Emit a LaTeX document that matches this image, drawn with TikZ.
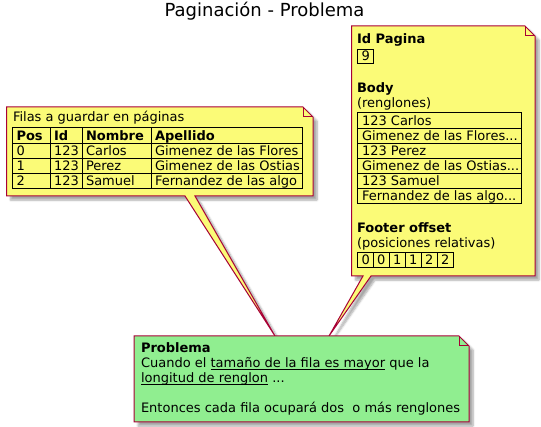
\documentclass[tikz,border=0pt]{standalone}
\usepackage{fontspec}
\setmainfont{DejaVu Sans}
\usetikzlibrary{shadows.blur}
\definecolor{noteyellow}{HTML}{FBFB77}
\definecolor{notegreen}{HTML}{90EE90}
\definecolor{noteborder}{HTML}{A80036}
\newcommand\myul[1]{\setbox0=\hbox{#1}\rlap{\rule[-2.5pt]{\wd0}{1pt}}\box0\relax}
\tikzset{
  notebox/.style={draw=noteborder, line width=1pt, line join=miter,
    blur shadow={shadow xshift=4pt, shadow yshift=-4pt, shadow opacity=35, shadow blur steps=6, shadow blur radius=2pt}},
  foldline/.style={draw=noteborder, line width=1pt},
  txt/.style={anchor=base west, inner sep=0pt, outer sep=0pt, font=\fontsize{13}{15}\selectfont},
  btxt/.style={txt, font=\fontsize{13}{15}\selectfont\bfseries},
  grid/.style={draw=black, line width=1pt},
  titletxt/.style={anchor=base, inner sep=0pt, font=\fontsize{18}{21}\selectfont}
}
\begin{document}
\begin{tikzpicture}[x=1pt, y=-1pt]
\useasboundingbox (0,0) rectangle (541,427);
% title
\node[titletxt] (title) at (264.5,17) {Paginación - Problema};

% tips of the wedges on the green note
\coordinate (tipL) at (275,336);
\coordinate (tipR) at (329,336);

% left note with wedge
\path[notebox, fill=noteyellow] (6.5,107) -- (303,107) -- (313,117) -- (313,196) -- (195,196) -- (tipL) -- (185,196) -- (6.5,196) -- cycle;
\draw[foldline] (303,107) -- (303,117) -- (313,117);

% right note with wedge
\path[notebox, fill=noteyellow] (351.5,26) -- (525,26) -- (535,36) -- (535,276) -- (371,276) -- (tipR) -- (363,276) -- (351.5,276) -- cycle;
\draw[foldline] (525,26) -- (525,36) -- (535,36);

% green note
\path[notebox, fill=notegreen] (134,336) -- (459,336) -- (469,346) -- (469,422) -- (134,422) -- cycle;
\draw[foldline] (459,336) -- (459,346) -- (469,346);

% ---- left note content
\node[txt] (filas) at (13,122) {Filas a guardar en páginas};
\draw[grid] (12.5,128) rectangle (302,189);
\foreach \yy in {144,159,174} \draw[grid] (12.5,\yy) -- (302,\yy);
\foreach \xx in {50,82,151} \draw[grid] (\xx,128) -- (\xx,189);
\node[btxt] (hPos) at (16.5,141) {Pos};
\node[btxt] (hId) at (54,141) {Id};
\node[btxt] (hNom) at (86,141) {Nombre};
\node[btxt] (hApe) at (155,141) {Apellido};
\node[txt] (p0) at (16.5,156) {0};
\node[txt] (i0) at (54,156) {123};
\node[txt] (n0) at (86,156) {Carlos};
\node[txt] (a0) at (155,156) {Gimenez de las Flores};
\node[txt] (p1) at (16.5,171) {1};
\node[txt] (i1) at (54,171) {123};
\node[txt] (n1) at (86,171) {Perez};
\node[txt] (a1) at (155,171) {Gimenez de las Ostias};
\node[txt] (p2) at (16.5,186) {2};
\node[txt] (i2) at (54,186) {123};
\node[txt] (n2) at (86,186) {Samuel};
\node[txt] (a2) at (155,186) {Fernandez de las algo};

% ---- right note content
\node[btxt] (idpag) at (357,44) {Id Pagina};
\draw[grid] (357.5,50) rectangle (373,64);
\node[txt] (nine) at (361.5,61) {9};
\node[btxt] (body) at (357,93) {Body};
\node[txt] (reng) at (357,108) {(renglones)};
\draw[grid] (357.5,113) rectangle (521,204);
\foreach \yy in {129,144,159,174,189} \draw[grid] (357.5,\yy) -- (521,\yy);
\node[txt] (r1) at (362,126) {123 Carlos};
\node[txt] (r2) at (362,141) {Gimenez de las Flores...};
\node[txt] (r3) at (362,156) {123 Perez};
\node[txt] (r4) at (362,171) {Gimenez de las Ostias...};
\node[txt] (r5) at (362,186) {123 Samuel};
\node[txt] (r6) at (362,201) {Fernandez de las algo...};
\node[btxt] (footer) at (357,233) {Footer offset};
\node[txt] (posrel) at (357,248) {(posiciones relativas)};
\draw[grid] (357.5,253) rectangle (453,268);
\foreach \xx in {373,389,405,421,437} \draw[grid] (\xx,253) -- (\xx,268);
\foreach \xx/\d [count=\k] in {357.5/0,373/0,389/1,405/1,421/2,437/2}
  \node[txt] (f\k) at (\xx+4,265) {\d};

% ---- green note content
\node[btxt] (prob) at (141,353) {Problema};
\node[txt] (l1) at (141,368) {Cuando el \myul{tamaño de la fila es mayor} que la};
\node[txt] (l2) at (141,383) {\myul{longitud de renglon} ...};
\node[txt] (l3) at (141,413) {Entonces cada fila ocupará dos\ \ o más renglones};
\end{tikzpicture}
\end{document}
